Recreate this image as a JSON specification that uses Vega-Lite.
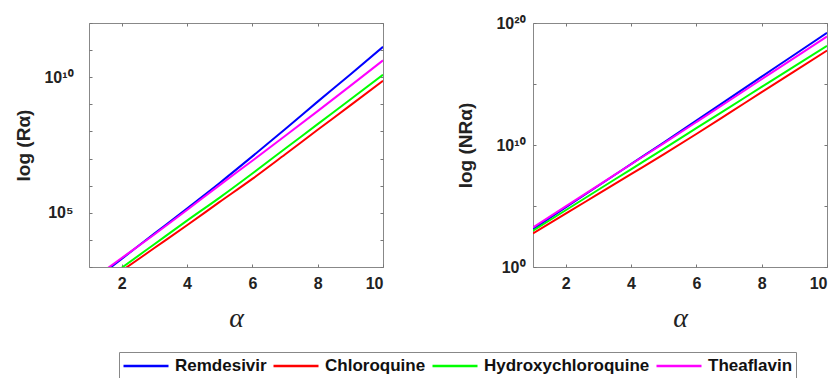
{
  "$schema": "https://vega.github.io/schema/vega-lite/v6.json",
  "background": "white",
  "padding": {"left": 14, "top": 14, "right": 8, "bottom": 0},
  "datasets": {
    "R": [
      {"x": 1, "drug": "Remdesivir", "v": 234},
      {"x": 2, "drug": "Remdesivir", "v": 1995},
      {"x": 3, "drug": "Remdesivir", "v": 16980},
      {"x": 4, "drug": "Remdesivir", "v": 144500},
      {"x": 5, "drug": "Remdesivir", "v": 1259000},
      {"x": 6, "drug": "Remdesivir", "v": 12020000},
      {"x": 7, "drug": "Remdesivir", "v": 120200000},
      {"x": 8, "drug": "Remdesivir", "v": 1259000000},
      {"x": 9, "drug": "Remdesivir", "v": 12590000000},
      {"x": 10, "drug": "Remdesivir", "v": 131800000000},
      {"x": 1, "drug": "Chloroquine", "v": 105},
      {"x": 2, "drug": "Chloroquine", "v": 724},
      {"x": 3, "drug": "Chloroquine", "v": 5012},
      {"x": 4, "drug": "Chloroquine", "v": 34670},
      {"x": 5, "drug": "Chloroquine", "v": 251200},
      {"x": 6, "drug": "Chloroquine", "v": 1778000},
      {"x": 7, "drug": "Chloroquine", "v": 14130000},
      {"x": 8, "drug": "Chloroquine", "v": 114800000},
      {"x": 9, "drug": "Chloroquine", "v": 912000000},
      {"x": 10, "drug": "Chloroquine", "v": 7413000000},
      {"x": 1, "drug": "Hydroxychloroquine", "v": 126},
      {"x": 2, "drug": "Hydroxychloroquine", "v": 933},
      {"x": 3, "drug": "Hydroxychloroquine", "v": 6918},
      {"x": 4, "drug": "Hydroxychloroquine", "v": 51290},
      {"x": 5, "drug": "Hydroxychloroquine", "v": 363100},
      {"x": 6, "drug": "Hydroxychloroquine", "v": 2818000},
      {"x": 7, "drug": "Hydroxychloroquine", "v": 22910000},
      {"x": 8, "drug": "Hydroxychloroquine", "v": 186200000},
      {"x": 9, "drug": "Hydroxychloroquine", "v": 1514000000},
      {"x": 10, "drug": "Hydroxychloroquine", "v": 12300000000},
      {"x": 1, "drug": "Theaflavin", "v": 288},
      {"x": 2, "drug": "Theaflavin", "v": 2138},
      {"x": 3, "drug": "Theaflavin", "v": 15850},
      {"x": 4, "drug": "Theaflavin", "v": 125900},
      {"x": 5, "drug": "Theaflavin", "v": 1047000},
      {"x": 6, "drug": "Theaflavin", "v": 8318000},
      {"x": 7, "drug": "Theaflavin", "v": 67610000},
      {"x": 8, "drug": "Theaflavin", "v": 562300000},
      {"x": 9, "drug": "Theaflavin", "v": 4786000000},
      {"x": 10, "drug": "Theaflavin", "v": 41690000000}
    ],
    "NR": [
      {"x": 1, "drug": "Remdesivir", "v": 1259},
      {"x": 2, "drug": "Remdesivir", "v": 75860},
      {"x": 3, "drug": "Remdesivir", "v": 4571000},
      {"x": 4, "drug": "Remdesivir", "v": 269200000},
      {"x": 5, "drug": "Remdesivir", "v": 15850000000},
      {"x": 6, "drug": "Remdesivir", "v": 1e12},
      {"x": 7, "drug": "Remdesivir", "v": 6.31e13},
      {"x": 8, "drug": "Remdesivir", "v": 3.981e15},
      {"x": 9, "drug": "Remdesivir", "v": 2.512e17},
      {"x": 10, "drug": "Remdesivir", "v": 1.585e19},
      {"x": 1, "drug": "Chloroquine", "v": 562},
      {"x": 2, "drug": "Chloroquine", "v": 23440},
      {"x": 3, "drug": "Chloroquine", "v": 977200},
      {"x": 4, "drug": "Chloroquine", "v": 40740000},
      {"x": 5, "drug": "Chloroquine", "v": 1698000000},
      {"x": 6, "drug": "Chloroquine", "v": 79430000000},
      {"x": 7, "drug": "Chloroquine", "v": 4.074e12},
      {"x": 8, "drug": "Chloroquine", "v": 2.138e14},
      {"x": 9, "drug": "Chloroquine", "v": 1.096e16},
      {"x": 10, "drug": "Chloroquine", "v": 5.495e17},
      {"x": 1, "drug": "Hydroxychloroquine", "v": 933},
      {"x": 2, "drug": "Hydroxychloroquine", "v": 44670},
      {"x": 3, "drug": "Hydroxychloroquine", "v": 2138000},
      {"x": 4, "drug": "Hydroxychloroquine", "v": 102300000},
      {"x": 5, "drug": "Hydroxychloroquine", "v": 4898000000},
      {"x": 6, "drug": "Hydroxychloroquine", "v": 239900000000},
      {"x": 7, "drug": "Hydroxychloroquine", "v": 1.175e13},
      {"x": 8, "drug": "Hydroxychloroquine", "v": 5.754e14},
      {"x": 9, "drug": "Hydroxychloroquine", "v": 2.818e16},
      {"x": 10, "drug": "Hydroxychloroquine", "v": 1.318e18},
      {"x": 1, "drug": "Theaflavin", "v": 1738},
      {"x": 2, "drug": "Theaflavin", "v": 93330},
      {"x": 3, "drug": "Theaflavin", "v": 4898000},
      {"x": 4, "drug": "Theaflavin", "v": 263000000},
      {"x": 5, "drug": "Theaflavin", "v": 13800000000},
      {"x": 6, "drug": "Theaflavin", "v": 758600000000},
      {"x": 7, "drug": "Theaflavin", "v": 4.266e13},
      {"x": 8, "drug": "Theaflavin", "v": 2.455e15},
      {"x": 9, "drug": "Theaflavin", "v": 1.38e17},
      {"x": 10, "drug": "Theaflavin", "v": 7.943e18}
    ]
  },
  "config": {
    "font": "Liberation Sans",
    "view": {"stroke": "#888888", "strokeWidth": 1},
    "axis": {
      "grid": false, "domain": false, "ticks": true, "tickColor": "#777777", "tickSize": 3, "tickWidth": 1, "offset": -3,
      "labelFont": "Liberation Sans", "labelFontWeight": "bold", "labelFontSize": 16,
      "labelColor": "#222222", "titleColor": "#222222"
    },
    "legend": {
      "symbolType": "stroke", "symbolSize": 2025, "clipHeight": 22,
      "symbolStrokeWidth": 2.5, "labelFont": "Liberation Sans", "labelFontWeight": "bold", "labelFontSize": 17,
      "labelLimit": 400, "labelColor": "#111111", "strokeColor": "#888888", "padding": 3, "columnPadding": 5, "labelOffset": 5
    }
  },
  "spacing": 72,
  "hconcat": [
    {
      "width": 294, "height": 244,
      "data": {"name": "R"},
      "layer": [
        {
          "mark": {"type": "line", "strokeWidth": 2, "clip": true, "interpolate": "monotone"},
          "encoding": {
            "x": {"field": "x", "type": "quantitative", "scale": {"domain": [1, 10], "nice": false},
              "axis": {"values": [2, 4, 6, 8, 10], "labelPadding": 8, "title": "α", "titleFont": "Liberation Serif", "titleFontStyle": "italic", "titleFontWeight": "normal", "titleFontSize": 28, "titlePadding": 13}},
            "y": {"field": "v", "type": "quantitative", "scale": {"type": "log", "domain": [1000, 1e12], "nice": false},
              "axis": {"values": [1e3, 1e4, 1e5, 1e6, 1e7, 1e8, 1e9, 1e10, 1e11, 1e12], "labelExpr": "datum.value == 1e5 ? '10⁵' : datum.value == 1e10 ? '10¹⁰' : ''", "labelPadding": 16, "title": "log (Rα)", "titleFontSize": 19, "titleFontWeight": "bold", "titlePadding": 10}},
            "color": {"field": "drug", "type": "nominal",
              "scale": {"domain": ["Remdesivir", "Chloroquine", "Hydroxychloroquine", "Theaflavin"], "range": ["#0000FF", "#FF0000", "#00FF00", "#FF00FF"]},
              "legend": {"title": null, "orient": "none", "direction": "horizontal", "legendX": 30, "legendY": 329}}
          }
        },
        {
          "mark": {"type": "line", "strokeWidth": 2, "clip": true, "opacity": 0},
          "encoding": {
            "x": {"field": "x", "type": "quantitative", "axis": {"orient": "top", "values": [2, 4, 6, 8, 10], "labels": false, "title": null}},
            "y": {"field": "v", "type": "quantitative", "axis": {"orient": "right", "values": [1e3, 1e4, 1e5, 1e6, 1e7, 1e8, 1e9, 1e10, 1e11, 1e12], "labels": false, "title": null}},
            "detail": {"field": "drug"}
          }
        }
      ],
      "resolve": {"axis": {"x": "independent", "y": "independent"}}
    },
    {
      "width": 294, "height": 244,
      "data": {"name": "NR"},
      "layer": [
        {
          "mark": {"type": "line", "strokeWidth": 2, "clip": true, "interpolate": "monotone"},
          "encoding": {
            "x": {"field": "x", "type": "quantitative", "scale": {"domain": [1, 10], "nice": false},
              "axis": {"values": [2, 4, 6, 8, 10], "labelPadding": 8, "title": "α", "titleFont": "Liberation Serif", "titleFontStyle": "italic", "titleFontWeight": "normal", "titleFontSize": 28, "titlePadding": 13}},
            "y": {"field": "v", "type": "quantitative", "scale": {"type": "log", "domain": [1, 1e20], "nice": false},
              "axis": {"values": [1, 1e5, 1e10, 1e15, 1e20], "labelExpr": "datum.value == 1 ? '10⁰' : datum.value == 1e10 ? '10¹⁰' : datum.value == 1e20 ? '10²⁰' : ''", "labelPadding": 8, "title": "log (NRα)", "titleFontSize": 19, "titleFontWeight": "bold", "titlePadding": 20}},
            "color": {"field": "drug", "type": "nominal",
              "scale": {"domain": ["Remdesivir", "Chloroquine", "Hydroxychloroquine", "Theaflavin"], "range": ["#0000FF", "#FF0000", "#00FF00", "#FF00FF"]},
              "legend": {"title": null, "orient": "none", "direction": "horizontal", "legendX": 30, "legendY": 329}}
          }
        },
        {
          "mark": {"type": "line", "strokeWidth": 2, "clip": true, "opacity": 0},
          "encoding": {
            "x": {"field": "x", "type": "quantitative", "axis": {"orient": "top", "values": [2, 4, 6, 8, 10], "labels": false, "title": null}},
            "y": {"field": "v", "type": "quantitative", "axis": {"orient": "right", "values": [1, 1e5, 1e10, 1e15, 1e20], "labels": false, "title": null}},
            "detail": {"field": "drug"}
          }
        }
      ],
      "resolve": {"axis": {"x": "independent", "y": "independent"}}
    }
  ]
}
